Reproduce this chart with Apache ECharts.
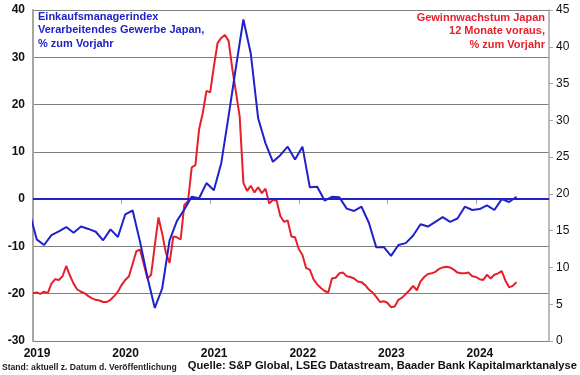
<!DOCTYPE html>
<html>
<head>
<meta charset="utf-8">
<script src="https://cdn.jsdelivr.net/npm/echarts@6/dist/echarts.min.js"></script>
<style>
  html, body { margin: 0; padding: 0; background: #fff; }
  #chart { width: 580px; height: 375px; }
</style>
</head>
<body>
<div id="chart"></div>
<script>
// year labels on the x axis (one tick every 12 months, starting Jan 2019)
const yearLabels = ["2019", "2020", "2021", "2022", "2023", "2024"]

// PMI manufacturing Japan, % yoy, monthly from Dec 2018 to Jun 2024
const pmiYoy = [
  -2.6,
  -8.5, -9.7, -7.6, -6.8, -5.9, -7.1, -5.8, -6.3, -6.9, -8.7, -6.4, -8.0,
  -3.2, -2.4, -9.0, -16.5, -23.0, -18.9, -8.7, -4.6, -2.2, 0.5, 0.2, 3.4,
  1.9, 7.6, 17.6, 28.0, 38.0, 30.8, 17.1, 11.8, 7.9, 9.3, 11.1, 8.4,
  11.1, 2.5, 2.6, -0.3, 0.5, 0.4, -2.0, -2.5, -1.6, -5.0, -10.2, -10.1,
  -12.0, -9.7, -9.3, -7.7, -5.3, -5.8, -4.8, -3.8, -4.8, -4.1, -1.6, -2.3,
  -2.1, -1.3, -2.3, 0.0, -0.6, 0.5
]

// earnings growth Japan, 12 months ahead, % yoy, twice a month from Jan 2019
const earningsGrowth = [
  6.5, 6.6, 6.4, 6.7, 6.5, 7.8, 8.4, 8.3, 8.8, 10.2, 8.9, 7.8,
  7.0, 6.7, 6.5, 6.1, 5.8, 5.6, 5.5, 5.3, 5.3, 5.6, 6.1, 6.7,
  7.6, 8.3, 8.8, 10.5, 12.2, 12.4, 10.5, 8.5, 9.0, 13.0, 16.8, 14.6,
  12.0, 10.6, 14.2, 14.1, 13.8, 18.5, 19.0, 23.6, 23.9, 28.8, 31.0, 34.0,
  33.8, 37.3, 40.5, 41.2, 41.6, 40.8, 37.0, 33.8, 30.5, 21.5, 20.4, 21.1,
  20.2, 20.9, 20.1, 20.7, 18.7, 19.2, 19.1, 17.0, 16.2, 16.4, 14.2, 14.1,
  12.5, 11.7, 9.9, 9.7, 8.4, 7.7, 7.2, 6.8, 6.6, 8.5, 8.6, 9.2,
  9.3, 8.8, 8.7, 8.5, 8.1, 8.0, 7.6, 7.0, 6.6, 6.0, 5.3, 5.4,
  5.2, 4.6, 4.7, 5.6, 5.9, 6.4, 6.9, 7.5, 6.9, 8.1, 8.7, 9.1,
  9.2, 9.4, 9.8, 10.0, 10.1, 10.0, 9.7, 9.3, 9.2, 9.2, 9.3, 8.8,
  8.7, 8.4, 8.3, 9.0, 8.5, 9.0, 9.2, 9.5, 8.2, 7.3, 7.5, 8.0
]

const BLUE = "#1f22c9"
const RED = "#e5202a"
const GRID = "#7f7f7f"
const AXIS = "#a6a6a6"
const FONT = "Liberation Sans, Arial, sans-serif"

// x in months since Jan 2019; monthly values sit mid-month
const pmiData = pmiYoy.map((v, i) => [i - 0.5, v])
const earningsData = earningsGrowth.map((v, i) => [i * 0.5, v])

const chart = echarts.init(document.getElementById("chart"), null, { renderer: "canvas" })

const option = {
  animation: false,
  backgroundColor: "#fff",
  grid: {
    left: 33,
    right: 31,
    top: 10,
    bottom: 34
  },
  xAxis: {
    type: "value",
    min: 0,
    max: 69.9,
    interval: 12,
    axisLine: { show: true, lineStyle: { color: AXIS, width: 1.5 } },
    axisTick: { show: true, length: 5, lineStyle: { color: AXIS } },
    splitLine: { show: false },
    axisLabel: {
      color: "#111",
      fontFamily: FONT,
      fontWeight: "bold",
      fontSize: 12,
      margin: 7,
      padding: [0, 0, 0, 8],
      showMaxLabel: false,
      formatter: function (v) {
        const i = Math.round(v / 12)
        return Math.abs(v - i * 12) < 0.01 ? (yearLabels[i] || "") : ""
      }
    }
  },
  yAxis: [
    {
      type: "value",
      min: -30,
      max: 40,
      interval: 10,
      axisLine: { show: true, lineStyle: { color: AXIS, width: 2 } },
      axisTick: { show: false },
      splitLine: { show: true, lineStyle: { color: GRID, width: 1 } },
      axisLabel: {
        color: "#111",
        fontFamily: FONT,
        fontWeight: "bold",
        fontSize: 12,
        margin: 8
      }
    },
    {
      type: "value",
      min: 0,
      max: 45,
      interval: 5,
      position: "right",
      axisLine: { show: true, lineStyle: { color: AXIS, width: 1.5 } },
      axisTick: { show: true, length: 4, lineStyle: { color: AXIS } },
      splitLine: { show: false },
      axisLabel: {
        color: "#111",
        fontFamily: FONT,
        fontSize: 12,
        margin: 7
      }
    }
  ],
  series: [
    {
      name: "Gewinnwachstum Japan",
      type: "line",
      yAxisIndex: 1,
      data: earningsData,
      symbol: "none",
      clip: true,
      lineStyle: { color: RED, width: 2 },
      z: 3
    },
    {
      name: "Einkaufsmanagerindex",
      type: "line",
      yAxisIndex: 0,
      data: pmiData,
      symbol: "none",
      clip: true,
      lineStyle: { color: BLUE, width: 2 },
      z: 4,
      markLine: {
        silent: true,
        symbol: ["none", "none"],
        label: { show: false },
        lineStyle: { color: BLUE, width: 2, type: "solid" },
        data: [{ yAxis: 0 }]
      }
    }
  ],
  graphic: [
    {
      type: "text",
      left: 38,
      top: 10,
      style: {
        text: "Einkaufsmanagerindex\nVerarbeitendes Gewerbe Japan,\n% zum Vorjahr",
        fill: BLUE,
        font: "bold 11px " + FONT,
        lineHeight: 13.5
      }
    },
    {
      type: "text",
      x: 545,
      y: 11,
      style: {
        text: "Gewinnwachstum Japan\n12 Monate voraus,\n% zum Vorjahr",
        fill: RED,
        font: "bold 11px " + FONT,
        lineHeight: 13.5,
        textAlign: "right",
        textVerticalAlign: "top"
      }
    },
    {
      type: "text",
      left: 2,
      top: 363,
      style: {
        text: "Stand: aktuell z. Datum d. Veröffentlichung",
        fill: "#222",
        font: "bold 8.6px " + FONT
      }
    },
    {
      type: "text",
      right: 3,
      top: 360,
      style: {
        text: "Quelle: S&P Global, LSEG Datastream, Baader Bank Kapitalmarktanalyse",
        fill: "#111",
        font: "bold 11.2px " + FONT
      }
    }
  ]
}

chart.setOption(option)
</script>
</body>
</html>
